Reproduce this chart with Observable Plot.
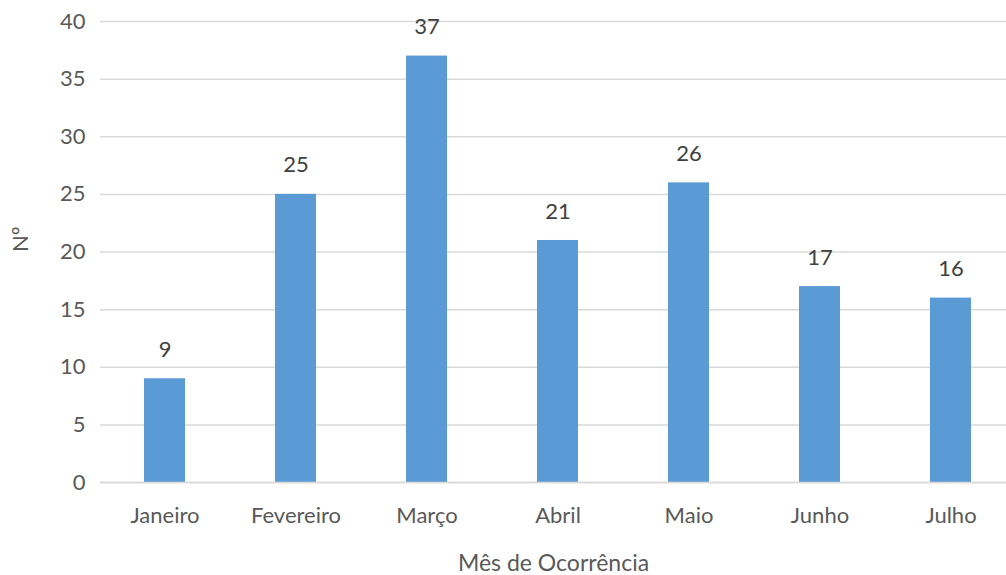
<!DOCTYPE html>
<html>
<head>
<meta charset="utf-8">
<script src="https://cdn.jsdelivr.net/npm/d3@7"></script>
<script src="https://cdn.jsdelivr.net/npm/@observablehq/plot@0.6"></script>
<style>
  html, body { margin: 0; padding: 0; background: #fff; }
  #chart svg { display: block; }
</style>
</head>
<body>
<div id="chart"></div>
<script>
const months = ["Janeiro", "Fevereiro", "Março", "Abril", "Maio", "Junho", "Julho"];
const counts = [9, 25, 37, 21, 26, 17, 16];
const yTicks = [0, 5, 10, 15, 20, 25, 30, 35, 40];
const xLabel = "Mês de Ocorrência";
const yLabel = "Nº";

const data = months.map((m, i) => ({ month: m, n: counts[i] }));
const font = "Lato, 'Open Sans', sans-serif";
const grey = "#595959";
const fs = 22;

const chart = Plot.plot({
  width: 1006,
  height: 575,
  marginLeft: 100,
  marginRight: 0,
  marginTop: 21,
  marginBottom: 93,
  style: { fontFamily: font, fontSize: fs + "px", color: grey, background: "#fff" },
  x: { domain: months, range: [99, 1016], paddingInner: 0.69, paddingOuter: 0.345, label: null },
  y: { domain: [0, 40], label: null },
  marks: [
    Plot.gridY(yTicks, { stroke: "#d9d9d9", strokeOpacity: 1, strokeWidth: 1.5 }),
    Plot.axisY(yTicks, { tickSize: 0, tickPadding: 15, fontSize: fs, fill: grey, label: null }),
    Plot.axisX({ tickSize: 0, tickPadding: 25, fontSize: fs, fill: grey, label: null }),
    Plot.barY(data, { x: "month", y: "n", fill: "#5b9bd5" }),
    Plot.ruleY([0], { stroke: "#d9d9d9", strokeWidth: 1.5 }),
    Plot.text(data, { x: "month", y: "n", text: d => String(d.n), dy: -29, fontSize: fs, fill: "#404040" }),
    Plot.text([xLabel], { frameAnchor: "bottom", dy: 88, fontSize: 23, fill: grey }),
    Plot.text([yLabel], { frameAnchor: "left", dx: -80, rotate: -90, fontSize: fs, fill: grey })
  ]
});
document.getElementById("chart").appendChild(chart);
</script>
</body>
</html>
